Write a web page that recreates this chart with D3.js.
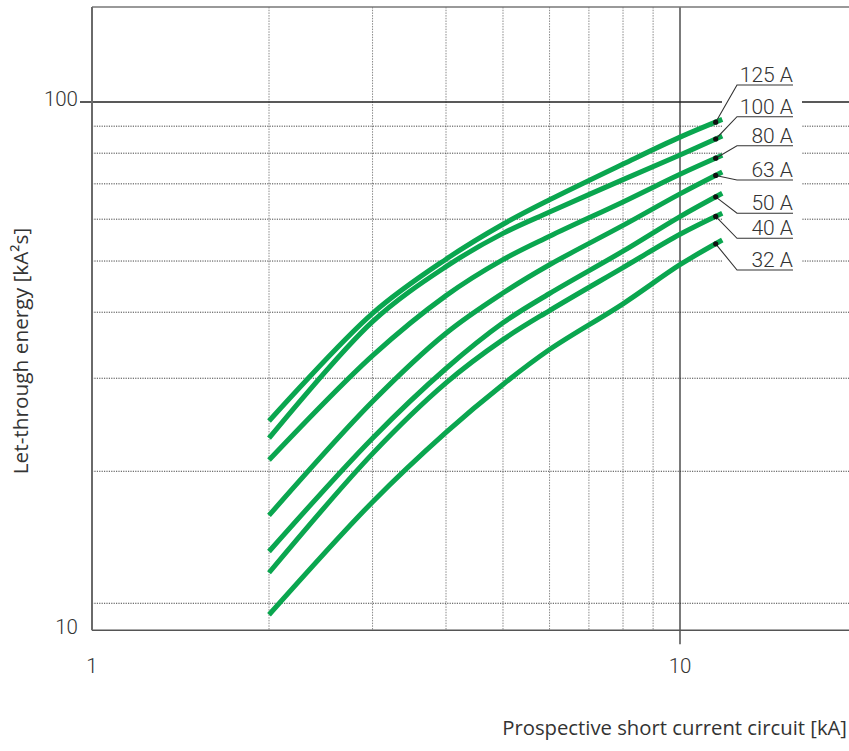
<!DOCTYPE html>
<html>
<head>
<meta charset="utf-8">
<script src="https://cdn.jsdelivr.net/npm/d3@7"></script>
<style>
  html, body { margin: 0; padding: 0; background: #fff; }
  svg { display: block; }
  text { font-family: "Open Sans", "Noto Sans", sans-serif; fill: #333; }
  text.light { font-family: Roboto, "Open Sans", sans-serif; font-weight: 300; }
</style>
</head>
<body>
<svg id="chart" width="849" height="751"></svg>
<script>
// ---------------- data ----------------
const seriesNames = ["125 A", "100 A", "80 A", "63 A", "50 A", "40 A", "32 A"];
const xValues = [2, 3, 4, 5, 6, 8, 10, 11.8];
const s125 = [24.9, 39.8, 50.4, 58.7, 65.3, 76.3, 85.8, 92.7];
const s100 = [23.1, 38.4, 48.8, 56.4, 61.9, 71.3, 79.4, 86.2];
const s80  = [21.0, 33.1, 43.0, 50.3, 55.7, 64.7, 73.0, 79.3];
const s63  = [16.5, 27.1, 36.5, 43.5, 49.2, 58.4, 67.0, 73.7];
const s50  = [14.1, 23.1, 31.3, 38.2, 43.4, 52.2, 60.7, 67.2];
const s40  = [12.85, 21.6, 29.4, 35.5, 40.3, 48.6, 56.2, 61.6];
const s32  = [10.7, 17.5, 23.7, 29.2, 34.0, 41.5, 49.2, 54.8];
const markerX = 11.5;                       // x value of the black end dots
const xTickLabels = [1, 10];
const yTickLabels = [10, 100];
const xGridValues = [2, 3, 4, 5, 6, 7, 8, 9];
const yGridValues = [11.25, 20, 30, 40, 50, 60, 70, 80, 90];
const xTitle = "Prospective short current circuit [kA]";
const yTitle = "Let-through energy [kA²s]";

// ---------------- layout ----------------
const W = 849, H = 751;
const plotLeft = 92, plotTop = 7, plotRight = 849, plotBottom = 630.3;
const labelLineY = [85, 116.7, 145.7, 180, 213.3, 238.3, 270]; // underline positions of labels
const labelX0 = 737, labelX1 = 793;
const green = "#0aa64f";

const seriesValues = [s125, s100, s80, s63, s50, s40, s32];

const svg = d3.select("#chart");

const x = d3.scaleLog().domain([1, 10]).range([plotLeft, 680]);
const y = d3.scaleLog().domain([10, 100]).range([plotBottom, 102]);

// grid
const g = svg.append("g");
g.selectAll("line.vg").data(xGridValues).enter().append("line")
  .attr("x1", d => x(d)).attr("x2", d => x(d))
  .attr("y1", plotTop).attr("y2", plotBottom)
  .attr("stroke", "#8a8a8a").attr("stroke-width", 1)
  .attr("stroke-dasharray", "1.5,1.2");
g.selectAll("line.hg").data(yGridValues).enter().append("line")
  .attr("x1", plotLeft).attr("x2", plotRight)
  .attr("y1", d => y(d)).attr("y2", d => y(d))
  .attr("stroke", "#444").attr("stroke-width", 1)
  .attr("stroke-dasharray", "1.2,1.2");

// solid decade lines
svg.append("line").attr("x1", x(10)).attr("x2", x(10))
  .attr("y1", plotTop).attr("y2", plotBottom + 14)
  .attr("stroke", "#333").attr("stroke-width", 1.3);
svg.append("line").attr("x1", 80).attr("x2", plotRight)
  .attr("y1", y(100)).attr("y2", y(100))
  .attr("stroke", "#222").attr("stroke-width", 1.3);

// frame
svg.append("line").attr("x1", plotLeft).attr("x2", plotRight)
  .attr("y1", plotTop).attr("y2", plotTop)
  .attr("stroke", "#777").attr("stroke-width", 1.5);
svg.append("line").attr("x1", plotLeft).attr("x2", plotRight)
  .attr("y1", plotBottom).attr("y2", plotBottom)
  .attr("stroke", "#555").attr("stroke-width", 1.5);
svg.append("line").attr("x1", plotLeft).attr("x2", plotLeft)
  .attr("y1", plotTop).attr("y2", plotBottom)
  .attr("stroke", "#6a6a6a").attr("stroke-width", 2);

// white mask behind labels
svg.append("rect").attr("x", 722).attr("y", 60).attr("width", 80).attr("height", 216)
  .attr("fill", "#fff");

// curves
const line = d3.line()
  .x(d => x(d[0])).y(d => y(d[1]))
  .curve(d3.curveCatmullRom.alpha(0.5));
seriesValues.forEach(vals => {
  const pts = xValues.map((xv, i) => [xv, vals[i]]);
  svg.append("path").attr("d", line(pts))
    .attr("fill", "none").attr("stroke", green)
    .attr("stroke-width", 5).attr("stroke-linecap", "butt");
});

// labels with leader lines and dots
function valueAt(vals, xv) {
  const n = xValues.length;
  const x0 = xValues[n - 2], x1 = xValues[n - 1];
  const t = (Math.log(xv) - Math.log(x0)) / (Math.log(x1) - Math.log(x0));
  return Math.exp(Math.log(vals[n - 2]) + t * (Math.log(vals[n - 1]) - Math.log(vals[n - 2])));
}
seriesNames.forEach((name, i) => {
  const px = x(markerX), py = y(valueAt(seriesValues[i], markerX));
  const ly = labelLineY[i];
  svg.append("polyline")
    .attr("points", `${px},${py} ${labelX0},${ly} ${labelX1},${ly}`)
    .attr("fill", "none").attr("stroke", "#333").attr("stroke-width", 1.1);
  svg.append("circle").attr("cx", px).attr("cy", py).attr("r", 2.6).attr("fill", "#111");
  svg.append("text").attr("class", "light").attr("x", labelX1).attr("y", ly - 3)
    .attr("text-anchor", "end").attr("font-size", 21)
    .text(name);
});

// tick labels
svg.selectAll("text.xt").data(xTickLabels).enter().append("text")
  .attr("class", "light")
  .attr("x", d => x(d)).attr("y", 673)
  .attr("text-anchor", "middle").attr("font-size", 20.5)
  .text(d => d);
svg.selectAll("text.yt").data(yTickLabels).enter().append("text")
  .attr("class", "light")
  .attr("x", 78).attr("y", d => y(d) + 4)
  .attr("text-anchor", "end").attr("font-size", 20.5)
  .text(d => d);

// axis titles
svg.append("text").attr("x", 847).attr("y", 735)
  .attr("text-anchor", "end").attr("font-size", 20.3)
  .text(xTitle);
svg.append("text")
  .attr("transform", "translate(28,351) rotate(-90)")
  .attr("text-anchor", "middle").attr("font-size", 20.8)
  .text(yTitle);
</script>
</body>
</html>
